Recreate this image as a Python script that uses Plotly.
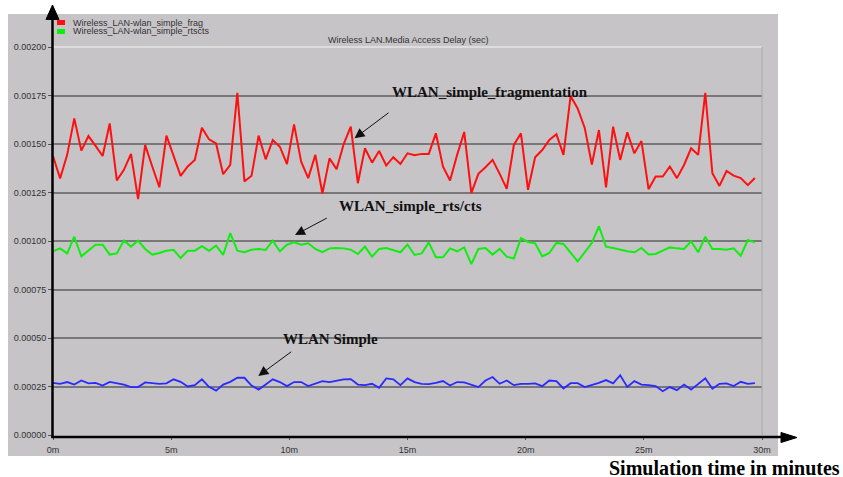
import plotly.graph_objects as go

sim_minutes = [0.0, 0.3, 0.6, 0.9, 1.2, 1.5, 1.8, 2.1, 2.4, 2.7, 3.0, 3.3, 3.6, 3.9, 4.2, 4.5, 4.8, 5.1, 5.4, 5.7,
               6.0, 6.3, 6.6, 6.9, 7.2, 7.5, 7.8, 8.1, 8.4, 8.7, 9.0, 9.3, 9.6, 9.9, 10.2, 10.5, 10.8, 11.1, 11.4, 11.7,
               12.0, 12.3, 12.6, 12.9, 13.2, 13.5, 13.8, 14.1, 14.4, 14.7, 15.0, 15.3, 15.6, 15.9, 16.2, 16.5, 16.8, 17.1, 17.4, 17.7,
               18.0, 18.3, 18.6, 18.9, 19.2, 19.5, 19.8, 20.1, 20.4, 20.7, 21.0, 21.3, 21.6, 21.9, 22.2, 22.5, 22.8, 23.1, 23.4, 23.7,
               24.0, 24.3, 24.6, 24.9, 25.2, 25.5, 25.8, 26.1, 26.4, 26.7, 27.0, 27.3, 27.6, 27.9, 28.2, 28.5, 28.8, 29.1, 29.4, 29.7]

delay_frag = [0.001438, 0.001322, 0.001444, 0.001632, 0.001466, 0.001541, 0.001490, 0.001438, 0.001606, 0.001312,
              0.001367, 0.001449, 0.001216, 0.001495, 0.001384, 0.001277, 0.001543, 0.001444, 0.001336, 0.001384,
              0.001418, 0.001584, 0.001524, 0.001503, 0.001344, 0.001392, 0.001764, 0.001307, 0.001336, 0.001543,
              0.001421, 0.001521, 0.001486, 0.001396, 0.001601, 0.001409, 0.001324, 0.001444, 0.001245, 0.001426,
              0.001370, 0.001500, 0.001589, 0.001298, 0.001478, 0.001404, 0.001464, 0.001389, 0.001432, 0.001397,
              0.001452, 0.001442, 0.001449, 0.001449, 0.001555, 0.001384, 0.001312, 0.001444, 0.001562, 0.001247,
              0.001346, 0.001380, 0.001418, 0.001346, 0.001269, 0.001495, 0.001555, 0.001264, 0.001432, 0.001469,
              0.001521, 0.001551, 0.001444, 0.001747, 0.001683, 0.001583, 0.001394, 0.001572, 0.001277, 0.001589,
              0.001418, 0.001560, 0.001452, 0.001515, 0.001267, 0.001332, 0.001332, 0.001384, 0.001324, 0.001392,
              0.001478, 0.001444, 0.001764, 0.001349, 0.001284, 0.001361, 0.001337, 0.001324, 0.001288, 0.001325]

delay_rtscts = [0.000947, 0.000962, 0.000936, 0.001022, 0.000921, 0.000950, 0.000981, 0.000981, 0.000930, 0.000936,
                0.001002, 0.000971, 0.001002, 0.000959, 0.000930, 0.000938, 0.000950, 0.000955, 0.000912, 0.000950,
                0.000950, 0.000973, 0.000950, 0.000976, 0.000928, 0.001041, 0.000950, 0.000942, 0.000955, 0.000959,
                0.000954, 0.001002, 0.000947, 0.000981, 0.000993, 0.000981, 0.000988, 0.000959, 0.000942, 0.000962,
                0.000964, 0.000962, 0.000955, 0.000933, 0.000971, 0.000919, 0.000959, 0.000964, 0.000954, 0.000942,
                0.000981, 0.000928, 0.000936, 0.000993, 0.000916, 0.000916, 0.000962, 0.000947, 0.000967, 0.000881,
                0.000959, 0.000964, 0.000930, 0.000959, 0.000919, 0.000910, 0.001014, 0.000995, 0.000988, 0.000921,
                0.000938, 0.000990, 0.000985, 0.000938, 0.000895, 0.000942, 0.000990, 0.001076, 0.000971, 0.000964,
                0.000954, 0.000947, 0.000942, 0.000964, 0.000930, 0.000933, 0.000950, 0.000967, 0.000962, 0.000959,
                0.000998, 0.000942, 0.001022, 0.000959, 0.000959, 0.000955, 0.000962, 0.000924, 0.001005, 0.000993]

delay_simple = [0.000269, 0.000264, 0.000273, 0.000260, 0.000281, 0.000266, 0.000269, 0.000255, 0.000274, 0.000267,
                0.000260, 0.000247, 0.000247, 0.000271, 0.000267, 0.000264, 0.000266, 0.000287, 0.000274, 0.000250,
                0.000257, 0.000287, 0.000248, 0.000229, 0.000260, 0.000274, 0.000295, 0.000295, 0.000255, 0.000234,
                0.000260, 0.000287, 0.000273, 0.000252, 0.000273, 0.000273, 0.000252, 0.000267, 0.000278, 0.000273,
                0.000280, 0.000287, 0.000288, 0.000260, 0.000257, 0.000264, 0.000243, 0.000292, 0.000287, 0.000257,
                0.000292, 0.000273, 0.000264, 0.000262, 0.000269, 0.000278, 0.000255, 0.000273, 0.000271, 0.000257,
                0.000247, 0.000281, 0.000299, 0.000264, 0.000281, 0.000257, 0.000264, 0.000264, 0.000266, 0.000252,
                0.000281, 0.000278, 0.000240, 0.000267, 0.000267, 0.000247, 0.000257, 0.000269, 0.000283, 0.000266,
                0.000308, 0.000248, 0.000278, 0.000260, 0.000257, 0.000252, 0.000226, 0.000247, 0.000231, 0.000260,
                0.000234, 0.000264, 0.000292, 0.000238, 0.000264, 0.000266, 0.000252, 0.000274, 0.000264, 0.000267]

x_tick_vals = [0, 5, 10, 15, 20, 25, 30]
x_tick_text = ["0m", "5m", "10m", "15m", "20m", "25m", "30m"]
y_tick_vals = [0.0, 0.00025, 0.0005, 0.00075, 0.001, 0.00125, 0.0015, 0.00175, 0.002]
y_tick_text = ["0.00000", "0.00025", "0.00050", "0.00075", "0.00100", "0.00125", "0.00150", "0.00175", "0.00200"]

legend_names = ["Wireless_LAN-wlan_simple_frag", "Wireless_LAN-wlan_simple_rtscts"]
chart_title = "Wireless LAN.Media Access Delay (sec)"
x_title = "Simulation time in minutes"

W, H = 843, 477
ML, MR, MT, MB = 53, 81, 47, 42
PW, PH = W - ML - MR, H - MT - MB
GRAY = "#c6c4c7"


def px(xp):
    return (xp - ML) / PW


def py(yp):
    return (H - MB - yp) / PH


fig = go.Figure()
fig.add_trace(go.Scatter(x=sim_minutes, y=delay_frag, mode="lines", name=legend_names[0],
                         line=dict(color="#ff1010", width=2)))
fig.add_trace(go.Scatter(x=sim_minutes, y=delay_rtscts, mode="lines", name=legend_names[1],
                         line=dict(color="#10ee10", width=2)))
fig.add_trace(go.Scatter(x=sim_minutes, y=delay_simple, mode="lines", name="WLAN Simple",
                         line=dict(color="#2a2aff", width=1.8)))

shapes = []
# gray chart panel
shapes.append(dict(type="rect", xref="paper", yref="paper", x0=px(8), x1=px(778), y0=py(456), y1=py(14),
                   fillcolor=GRAY, line=dict(width=0), layer="below"))
# light top frame and right frame
shapes.append(dict(type="line", xref="paper", yref="paper", x0=0, x1=1, y0=1, y1=1,
                   line=dict(color="#e6e6e6", width=1.5), layer="above"))
shapes.append(dict(type="line", xref="paper", yref="paper", x0=1, x1=1, y0=0, y1=1,
                   line=dict(color="#a8a8a8", width=1), layer="above"))
# legend swatches
shapes.append(dict(type="rect", xref="paper", yref="paper", x0=px(57), x1=px(65), y0=py(25), y1=py(20),
                   fillcolor="#ff1010", line=dict(width=0)))
shapes.append(dict(type="rect", xref="paper", yref="paper", x0=px(57), x1=px(65), y0=py(34), y1=py(29),
                   fillcolor="#10ee10", line=dict(width=0)))
# hand-drawn axis arrows
shapes.append(dict(type="line", xref="paper", yref="paper", x0=px(52.5), x1=px(52.5), y0=py(438), y1=py(17),
                   line=dict(color="black", width=2.5), layer="above"))
shapes.append(dict(type="path", xref="paper", yref="paper",
                   path="M {} {} L {} {} L {} {} Z".format(px(52.5), py(5), px(46), py(19.5), px(59), py(19.5)),
                   fillcolor="black", line=dict(color="black", width=1), layer="above"))
shapes.append(dict(type="line", xref="paper", yref="paper", x0=px(51.5), x1=px(783), y0=py(437), y1=py(437),
                   line=dict(color="black", width=2.5), layer="above"))
shapes.append(dict(type="path", xref="paper", yref="paper",
                   path="M {} {} L {} {} L {} {} Z".format(px(797), py(437.5), px(781), py(432.5), px(781), py(442.5)),
                   fillcolor="black", line=dict(color="black", width=1), layer="above"))

serif = "Liberation Serif, Times New Roman, serif"
sans = "Liberation Sans, Arial, sans-serif"

annotations = [
    dict(text=chart_title, xref="paper", yref="paper", x=px(408), y=py(40), showarrow=False,
         font=dict(family=sans, size=9, color="#333333"), xanchor="center", yanchor="middle"),
    dict(text=legend_names[0], xref="paper", yref="paper", x=px(71), y=py(22.5), showarrow=False,
         font=dict(family=sans, size=9, color="#333333"), xanchor="left", yanchor="middle"),
    dict(text=legend_names[1], xref="paper", yref="paper", x=px(71), y=py(31.5), showarrow=False,
         font=dict(family=sans, size=9, color="#333333"), xanchor="left", yanchor="middle"),
    dict(text="<b>WLAN_simple_fragmentation</b>", xref="paper", yref="paper", x=px(390), y=py(92),
         showarrow=False, font=dict(family=serif, size=15, color="#111111"), xanchor="left", yanchor="middle"),
    dict(text="<b>WLAN_simple_rts/cts</b>", xref="paper", yref="paper", x=px(337), y=py(206),
         showarrow=False, font=dict(family=serif, size=15, color="#111111"), xanchor="left", yanchor="middle"),
    dict(text="<b>WLAN Simple</b>", xref="paper", yref="paper", x=px(281), y=py(339),
         showarrow=False, font=dict(family=serif, size=15, color="#111111"), xanchor="left", yanchor="middle"),
    dict(text="<b>" + x_title + "</b>", xref="paper", yref="paper", x=px(842), y=py(468),
         showarrow=False, font=dict(family=serif, size=20, color="#000000"), xanchor="right", yanchor="middle"),
]
# pointer arrows (head, tail in pixels)
for head, tail in [((354.5, 138.3), (390, 111.7)), ((295, 235), (328.3, 217.3)), ((258.3, 376), (292.7, 350.7))]:
    annotations.append(dict(text="", xref="paper", yref="paper", x=px(head[0]), y=py(head[1]),
                            ax=tail[0] - head[0], ay=tail[1] - head[1], showarrow=True,
                            arrowhead=2, arrowsize=2, arrowwidth=1, arrowcolor="#111111"))

fig.update_layout(
    width=W, height=H,
    margin=dict(l=ML, r=MR, t=MT, b=MB, pad=0),
    paper_bgcolor="white", plot_bgcolor=GRAY,
    showlegend=False,
    shapes=shapes, annotations=annotations,
    xaxis=dict(range=[0, 30], tickvals=x_tick_vals, ticktext=x_tick_text, showgrid=False, zeroline=False,
               ticks="outside", ticklen=4, tickcolor="#555555", tickwidth=1, ticklabelstandoff=2,
               tickfont=dict(family=sans, size=9, color="#333333"), showline=False, fixedrange=True),
    yaxis=dict(range=[0, 0.002], tickvals=y_tick_vals, ticktext=y_tick_text, showgrid=True,
               gridcolor="#787878", gridwidth=1.5, zeroline=False,
               ticks="outside", ticklen=4, tickcolor="#555555", tickwidth=1,
               tickfont=dict(family=sans, size=9, color="#333333"), showline=False, fixedrange=True),
)

fig.write_html("out.html", config={"displayModeBar": False},
               post_script="document.body.style.margin='0';document.body.style.overflow='hidden';")
